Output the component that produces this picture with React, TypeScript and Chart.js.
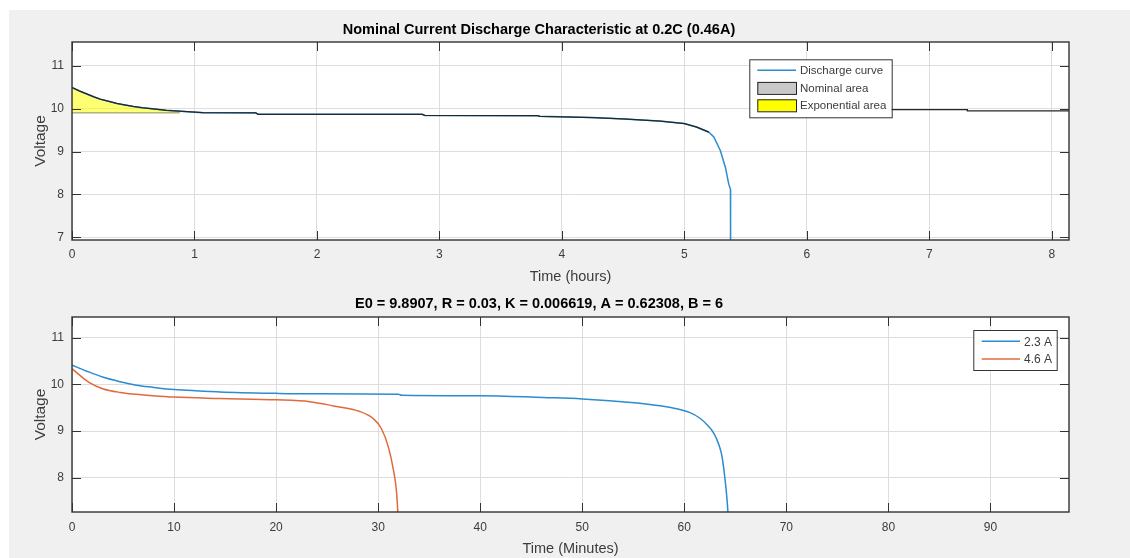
import React, { useEffect, useRef } from "react";
import { Chart, registerables } from "chart.js";

Chart.register(...registerables);

const FONT = '"Liberation Sans", Arial, Helvetica, sans-serif';
const GRID = "#dedede";
const AXIS = "#333333";
const TEXT = "#3c3c3c";

// ---------- Top chart: nominal discharge at 0.2C ----------
const topTitle = "Nominal Current Discharge Characteristic at 0.2C (0.46A)";
const hourTicks = [0, 1, 2, 3, 4, 5, 6, 7, 8];
const topVoltTicks = [7, 8, 9, 10, 11];
const dischargeHours = [
  0, 0.06, 0.12, 0.18, 0.23, 0.3, 0.365, 0.43, 0.5, 0.57, 0.64, 0.77, 0.88, 1.07, 1.5, 1.52,
  2.86, 2.88, 3.8, 3.82, 4.25, 4.5, 4.8, 5.0, 5.1, 5.2, 5.24, 5.294, 5.335, 5.362, 5.376, 5.377,
];
const dischargeVolts = [
  10.49, 10.41, 10.34, 10.27, 10.22, 10.17, 10.12, 10.085, 10.05, 10.02, 10.0, 9.96, 9.94, 9.905,
  9.9, 9.866, 9.866, 9.84, 9.835, 9.82, 9.79, 9.76, 9.71, 9.65, 9.57, 9.45, 9.34, 9.02, 8.63, 8.24,
  8.12, 6.5,
];
const expEndHour = 0.88;
const expBaseVolt = 9.9;
const nominalEndHour = 5.2;
const tailHours = [6.0, 7.31, 7.31, 8.14];
const tailVolts = [9.975, 9.975, 9.945, 9.945];

// ---------- Bottom chart: 2.3 A vs 4.6 A ----------
const bottomTitle = "E0 = 9.8907, R = 0.03, K = 0.006619, A = 0.62308, B = 6";
const minuteTicks = [0, 10, 20, 30, 40, 50, 60, 70, 80, 90];
const bottomVoltTicks = [8, 9, 10, 11];
const minutesA23 = [
  0, 1.4, 3.0, 4.7, 6.3, 7.9, 10, 14.5, 20, 23.3, 32, 32.3, 40, 46.2, 50, 55.4, 57, 59, 60.5,
  61.5, 62.3, 62.9, 63.4, 63.7, 64.0, 64.2, 64.35,
];
const voltsA23 = [
  10.415, 10.29, 10.16, 10.06, 9.985, 9.94, 9.89, 9.84, 9.81, 9.8, 9.79, 9.77, 9.76, 9.72, 9.69,
  9.6, 9.56, 9.49, 9.4, 9.28, 9.12, 8.95, 8.7, 8.45, 7.95, 7.5, 7.0,
];
const minutesA46 = [
  0, 0.75, 1.7, 3.0, 4.7, 6.3, 7.9, 10, 14.5, 20, 23.3, 25.6, 28.2, 29.5, 30.3, 31.0, 31.5,
  31.8, 32.0,
];
const voltsA46 = [
  10.34, 10.2, 10.04, 9.91, 9.83, 9.79, 9.76, 9.73, 9.7, 9.67, 9.63, 9.54, 9.42, 9.27, 9.06,
  8.66, 8.16, 7.7, 7.0,
];

const BLUE = "#2b8ccf";
const ORANGE = "#e06a3c";

const pts = (xs: number[], ys: number[]) => xs.map((x, i) => ({ x, y: ys[i] }));

const framePlugin = {
  id: "matlabFrame",
  beforeDraw(chart: any) {
    const { ctx, chartArea: a } = chart;
    ctx.save();
    ctx.fillStyle = "#ffffff";
    ctx.fillRect(a.left, a.top, a.right - a.left, a.bottom - a.top);
    ctx.restore();
  },
  afterDraw(chart: any, _args: any, opts: any) {
    const { ctx, chartArea: a, scales } = chart;
    const xs = scales.x;
    const ys = scales.y;
    const L = 9;
    ctx.save();
    ctx.strokeStyle = AXIS;
    ctx.lineWidth = 1;
    ctx.beginPath();
    xs.ticks.forEach((t: any) => {
      const px = Math.round(xs.getPixelForValue(t.value)) + 0.5;
      ctx.moveTo(px, a.bottom);
      ctx.lineTo(px, a.bottom - L);
      ctx.moveTo(px, a.top);
      ctx.lineTo(px, a.top + L);
    });
    ys.ticks.forEach((t: any) => {
      const py = Math.round(ys.getPixelForValue(t.value)) + 0.5;
      ctx.moveTo(a.left, py);
      ctx.lineTo(a.left + L, py);
      ctx.moveTo(a.right, py);
      ctx.lineTo(a.right - L, py);
    });
    ctx.stroke();
    ctx.lineWidth = 1.4;
    ctx.strokeRect(a.left, a.top, a.right - a.left, a.bottom - a.top);

    // legend
    const lg = opts && opts.legend;
    if (lg) {
      const bx = a.right - lg.right - lg.w;
      const by = a.top + lg.top;
      ctx.fillStyle = "#ffffff";
      ctx.fillRect(bx, by, lg.w, lg.h);
      ctx.strokeStyle = AXIS;
      ctx.lineWidth = 1;
      ctx.strokeRect(bx + 0.5, by + 0.5, lg.w, lg.h);
      ctx.font = `${lg.fontSize}px ${FONT}`;
      ctx.textBaseline = "middle";
      ctx.textAlign = "left";
      lg.items.forEach((it: any) => {
        const sx = bx + lg.sampleLeft;
        const cy = by + it.dy;
        if (it.kind === "line") {
          ctx.strokeStyle = it.color;
          ctx.lineWidth = 1.5;
          ctx.beginPath();
          ctx.moveTo(sx, cy);
          ctx.lineTo(sx + lg.sampleW, cy);
          ctx.stroke();
        } else {
          ctx.fillStyle = it.color;
          ctx.fillRect(sx, cy - 6, lg.sampleW, 12);
          ctx.strokeStyle = "#222";
          ctx.lineWidth = 1;
          ctx.strokeRect(sx + 0.5, cy - 6 + 0.5, lg.sampleW, 12);
        }
        ctx.fillStyle = TEXT;
        ctx.fillText(it.label, sx + lg.sampleW + lg.gap, cy + 1);
      });
    }
    ctx.restore();
  },
};

function makeScales(p: {
  xMin: number; xMax: number; xTicks: number[]; xTitle: string; xHeight: number; xPad: number; xTitlePad: number;
  yMin: number; yMax: number; yTicks: number[];
}) {
  const tickFont = { family: FONT, size: 12 };
  return {
    x: {
      type: "linear" as const,
      min: p.xMin,
      max: p.xMax,
      afterBuildTicks: (s: any) => { s.ticks = p.xTicks.map((v) => ({ value: v })); },
      afterFit: (s: any) => { s.height = p.xHeight; },
      grid: { color: GRID, lineWidth: 1, drawTicks: false },
      border: { display: false },
      ticks: { padding: p.xPad, color: TEXT, font: tickFont, maxRotation: 0, autoSkip: false, callback: (v: any) => String(v) },
      title: { display: true, text: p.xTitle, color: TEXT, font: { family: FONT, size: 14.5 }, padding: { top: 0, bottom: p.xTitlePad } },
    },
    y: {
      type: "linear" as const,
      min: p.yMin,
      max: p.yMax,
      afterBuildTicks: (s: any) => { s.ticks = p.yTicks.map((v) => ({ value: v })); },
      afterFit: (s: any) => { s.width = 63; },
      grid: { color: GRID, lineWidth: 1, drawTicks: false },
      border: { display: false },
      ticks: { padding: 8, color: TEXT, font: tickFont, callback: (v: any) => String(v) },
      title: { display: true, text: "Voltage", color: TEXT, font: { family: FONT, size: 15.5 }, padding: { top: 22.7, bottom: 0 } },
    },
  };
}

function topConfig(): any {
  const curve = pts(dischargeHours, dischargeVolts);
  const expPts = curve.filter((p) => p.x <= expEndHour);
  const nomPts = curve.filter((p) => p.x <= nominalEndHour);
  return {
    type: "line",
    data: {
      datasets: [
        { label: "Nominal area", data: nomPts, borderColor: "#262626", borderWidth: 1.3, pointRadius: 0, fill: false },
        { label: "tail", data: pts(tailHours, tailVolts), borderColor: "#262626", borderWidth: 1.3, pointRadius: 0, fill: false },
        { label: "exp base", data: [{ x: 0, y: expBaseVolt }, { x: expEndHour, y: expBaseVolt }], borderColor: "#8c8c50", borderWidth: 1, pointRadius: 0, fill: false },
        { label: "Discharge curve", data: curve, borderColor: BLUE, borderWidth: 1.5, pointRadius: 0, fill: false },
        { label: "Exponential area", data: expPts, borderWidth: 0, borderColor: "rgba(0,0,0,0)", backgroundColor: "rgba(255,255,0,0.55)", pointRadius: 0, fill: { value: expBaseVolt } },
      ],
    },
    options: {
      animation: false,
      responsive: false,
      events: [],
      layout: { padding: { left: 0, right: 61, top: 0, bottom: 0 } },
      plugins: {
        legend: { display: false },
        tooltip: { enabled: false },
        title: { display: true, text: topTitle, color: "#000", font: { family: FONT, size: 14.5, weight: "bold" }, padding: { top: 11.3, bottom: 3.3 } },
        matlabFrame: {
          legend: {
            right: 177.3, top: 17.3, w: 142.4, h: 58, sampleLeft: 8, sampleW: 38.7, gap: 4, fontSize: 11.5,
            items: [
              { kind: "line", color: BLUE, label: "Discharge curve", dy: 11 },
              { kind: "box", color: "#c8c8c8", label: "Nominal area", dy: 28.6 },
              { kind: "box", color: "#ffff00", label: "Exponential area", dy: 46 },
            ],
          },
        },
      },
      scales: makeScales({
        xMin: 0, xMax: 8.14, xTicks: hourTicks, xTitle: "Time (hours)", xHeight: 46, xPad: 7.8, xTitlePad: 0.8,
        yMin: 6.94, yMax: 11.55, yTicks: topVoltTicks,
      }),
    },
    plugins: [framePlugin],
  };
}

function bottomConfig(): any {
  return {
    type: "line",
    data: {
      datasets: [
        { label: "2.3 A", data: pts(minutesA23, voltsA23), borderColor: BLUE, borderWidth: 1.5, pointRadius: 0, fill: false, cubicInterpolationMode: "monotone" },
        { label: "4.6 A", data: pts(minutesA46, voltsA46), borderColor: ORANGE, borderWidth: 1.5, pointRadius: 0, fill: false, cubicInterpolationMode: "monotone" },
      ],
    },
    options: {
      animation: false,
      responsive: false,
      events: [],
      layout: { padding: { left: 0, right: 61, top: 0, bottom: 0 } },
      plugins: {
        legend: { display: false },
        tooltip: { enabled: false },
        title: { display: true, text: bottomTitle, color: "#000", font: { family: FONT, size: 14.5, weight: "bold" }, padding: { top: 5.3, bottom: 4.3 } },
        matlabFrame: {
          legend: {
            right: 12.3, top: 13, w: 83.4, h: 40, sampleLeft: 8.4, sampleW: 38.3, gap: 4, fontSize: 12,
            items: [
              { kind: "line", color: BLUE, label: "2.3 A", dy: 11.3 },
              { kind: "line", color: ORANGE, label: "4.6 A", dy: 29 },
            ],
          },
        },
      },
      scales: makeScales({
        xMin: 0, xMax: 97.7, xTicks: minuteTicks, xTitle: "Time (Minutes)", xHeight: 46, xPad: 8.8, xTitlePad: 0,
        yMin: 7.26, yMax: 11.45, yTicks: bottomVoltTicks,
      }),
    },
    plugins: [framePlugin],
  };
}

export default function App() {
  const topRef = useRef<HTMLCanvasElement>(null);
  const botRef = useRef<HTMLCanvasElement>(null);
  useEffect(() => {
    const c1 = new Chart(topRef.current as HTMLCanvasElement, topConfig());
    const c2 = new Chart(botRef.current as HTMLCanvasElement, bottomConfig());
    return () => {
      c1.destroy();
      c2.destroy();
    };
  }, []);
  return (
    <div
      style={{
        position: "absolute",
        left: 9,
        top: 10,
        width: 1121,
        height: 548,
        background: "#f0f0f0",
        overflow: "hidden",
      }}
    >
      <canvas ref={topRef} width={1121} height={276} style={{ position: "absolute", left: 0, top: 0, width: 1121, height: 276 }} />
      <canvas ref={botRef} width={1121} height={268} style={{ position: "absolute", left: 0, top: 280, width: 1121, height: 268 }} />
    </div>
  );
}
